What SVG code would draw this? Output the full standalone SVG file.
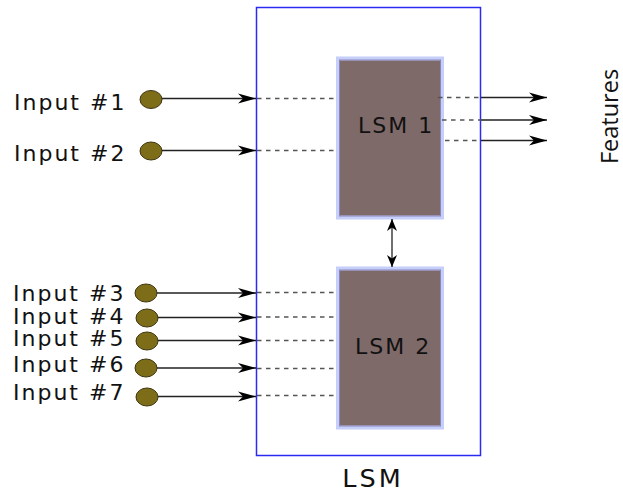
<svg xmlns="http://www.w3.org/2000/svg" width="623" height="492" viewBox="0 0 623 492">
<style>
.lbl{font-family:"DejaVu Sans",Verdana,sans-serif;font-size:22px;letter-spacing:2px;fill:#111}
.in{fill:#7d6c18;stroke:#3e3510;stroke-width:1}
.sol{stroke:#222;stroke-width:1.3;fill:none}
.dash{stroke:#555;stroke-width:1.4;stroke-dasharray:4.5,4.5;fill:none}
.lsm{fill:#7f6a6a;stroke:#c6cefa;stroke-width:4}
.lsmin{fill:none;stroke:#8a86b8;stroke-width:1}
</style>
<defs>
<marker id="ah" markerWidth="20" markerHeight="12" refX="18" refY="6" orient="auto" markerUnits="userSpaceOnUse">
<path d="M0,1 L18,6 L0,11 L5,6 Z" fill="#000"/>
</marker>
<marker id="ah2" markerWidth="14" markerHeight="14" refX="12" refY="5" orient="auto-start-reverse" markerUnits="userSpaceOnUse">
<path d="M0,0 L12,5 L0,10 L3.5,5 Z" fill="#000"/>
</marker>
</defs>
<g id="outer">
<rect x="256.5" y="7.5" width="224" height="448" fill="none" stroke="#2a2af0" stroke-width="1.5"/>
<text x="373" y="487" text-anchor="middle" style="font-family:'DejaVu Sans',Verdana,sans-serif;font-size:25.5px;letter-spacing:3px;fill:#111">LSM</text>
</g>
<g id="lsm1">
<rect class="lsm" x="338" y="58.5" width="104" height="159"/>
<rect class="lsmin" x="339.5" y="60" width="101" height="156"/>
<text class="lbl" x="358" y="133.3">LSM 1</text>
</g>
<g id="lsm2">
<rect class="lsm" x="338" y="268.5" width="104" height="159"/>
<rect class="lsmin" x="339.5" y="270" width="101" height="156"/>
<text class="lbl" x="355" y="354">LSM 2</text>
</g>
<g id="in1"><ellipse class="in" cx="151" cy="99.5" rx="11" ry="9"/><text class="lbl" x="14" y="110">Input #1</text></g>
<g id="in2"><ellipse class="in" cx="151" cy="151" rx="11" ry="9"/><text class="lbl" x="14" y="161">Input #2</text></g>
<g id="in3"><ellipse class="in" cx="146" cy="293" rx="11" ry="9"/><text class="lbl" x="13" y="301">Input #3</text></g>
<g id="in4"><ellipse class="in" cx="147" cy="318" rx="11" ry="9"/><text class="lbl" x="13" y="324">Input #4</text></g>
<g id="in5"><ellipse class="in" cx="147" cy="341" rx="11" ry="9"/><text class="lbl" x="13" y="346">Input #5</text></g>
<g id="in6"><ellipse class="in" cx="146" cy="368" rx="11" ry="9"/><text class="lbl" x="13" y="372">Input #6</text></g>
<g id="in7"><ellipse class="in" cx="147" cy="397" rx="11" ry="9"/><text class="lbl" x="13" y="400">Input #7</text></g>
<g id="features"><text transform="translate(617.5,116.5) rotate(-90)" text-anchor="middle" style="font-family:'Open Sans','DejaVu Sans',sans-serif;font-size:23.5px;fill:#111">Features</text></g>
<g id="connectors">
<path class="sol" marker-end="url(#ah)" d="M162,98.5 H256"/>
<path class="sol" marker-end="url(#ah)" d="M162,150.5 H256"/>
<path class="sol" marker-end="url(#ah)" d="M157,293 H256"/>
<path class="sol" marker-end="url(#ah)" d="M158,317.5 H256"/>
<path class="sol" marker-end="url(#ah)" d="M158,340.5 H256"/>
<path class="sol" marker-end="url(#ah)" d="M157,368 H256"/>
<path class="sol" marker-end="url(#ah)" d="M158,396.5 H256"/>
<path class="dash" d="M257,98.5 H337"/>
<path class="dash" d="M257,150.5 H337"/>
<path class="dash" d="M257,292.5 H337"/>
<path class="dash" d="M257,317 H337"/>
<path class="dash" d="M257,340.5 H337"/>
<path class="dash" d="M257,368.5 H337"/>
<path class="dash" d="M257,395.5 H337"/>
<path class="dash" d="M438,97.5 H481"/>
<path class="dash" d="M442,120 H481"/>
<path class="dash" d="M445,140.5 H481"/>
<path class="sol" marker-end="url(#ah)" d="M481,97.5 H547"/>
<path class="sol" marker-end="url(#ah)" d="M481,120 H547"/>
<path class="sol" marker-end="url(#ah)" d="M481,140.5 H547"/>
<path class="sol" marker-start="url(#ah2)" marker-end="url(#ah2)" d="M392,219 V267"/>
</g>
</svg>
